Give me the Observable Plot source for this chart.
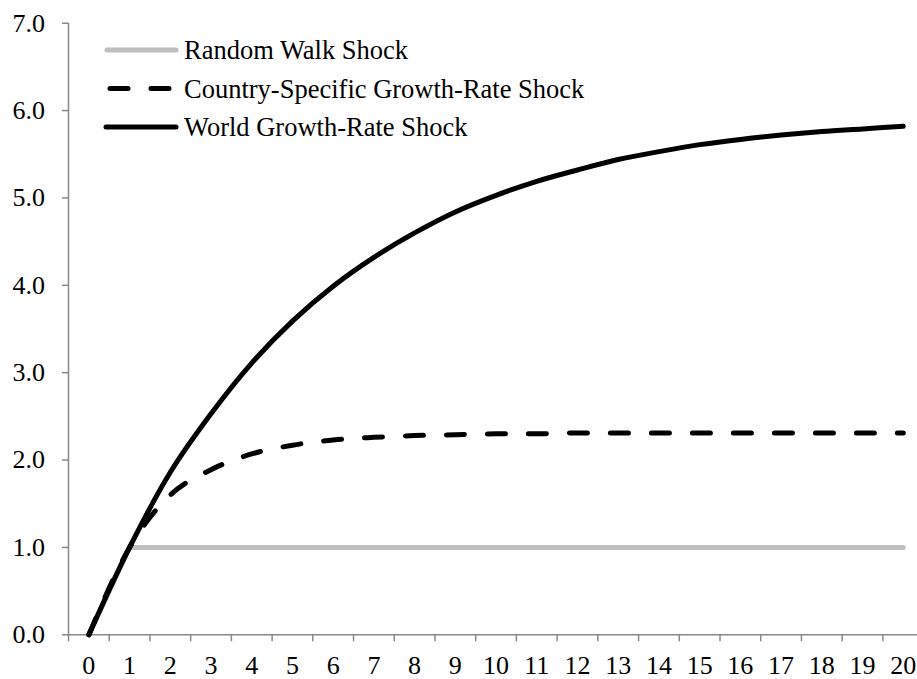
<!DOCTYPE html>
<html>
<head>
<meta charset="utf-8">
<script src="https://cdn.jsdelivr.net/npm/d3@7"></script>
<script src="https://cdn.jsdelivr.net/npm/@observablehq/plot@0.6"></script>
<style>
  html, body { margin: 0; padding: 0; background: #fff; }
  #chart { width: 917px; height: 679px; }
</style>
</head>
<body>
<div id="chart"></div>
<script>
const periods = [0,1,2,3,4,5,6,7,8,9,10,11,12,13,14,15,16,17,18,19,20];
const randomWalk = [0,1,1,1,1,1,1,1,1,1,1,1,1,1,1,1,1,1,1,1,1];
const countrySpecific = [0,1.00,1.60,1.89,2.07,2.17,2.23,2.26,2.28,2.29,2.30,2.30,2.31,2.31,2.31,2.31,2.31,2.31,2.31,2.31,2.31];
const worldGrowth = [0,1.00,1.86,2.53,3.11,3.59,3.99,4.32,4.60,4.84,5.03,5.19,5.32,5.44,5.53,5.61,5.67,5.72,5.76,5.79,5.82];
const seriesNames = ["Random Walk Shock", "Country-Specific Growth-Rate Shock", "World Growth-Rate Shock"];
const yTicks = [0,1,2,3,4,5,6,7];
const xTickLabels = periods;
const xTickMarks = [-0.5,0.5,1.5,2.5,3.5,4.5,5.5,6.5,7.5,8.5,9.5,10.5,11.5,12.5,13.5,14.5,15.5,16.5,17.5,18.5,19.5];

const rw = periods.map((p, i) => ({x: p, y: randomWalk[i]}));
const cs = periods.map((p, i) => ({x: p, y: countrySpecific[i]}));
const wg = periods.map((p, i) => ({x: p, y: worldGrowth[i]}));

const axisGray = "#888888";
const font = "Liberation Serif, Times New Roman, serif";

const chart = Plot.plot({
  width: 917,
  height: 679,
  marginTop: 22.7,
  marginBottom: 44.7,
  marginLeft: 68,
  marginRight: 0,
  style: {fontFamily: font, fontSize: "26px", color: "black", background: "white", overflow: "visible"},
  x: {domain: [-0.5, 20.35], axis: null},
  y: {domain: [0, 7], axis: null},
  marks: [
    Plot.axisY(yTicks, {label: null, tickSize: 6, tickPadding: 17.5, tickFormat: d3.format(".1f"), stroke: axisGray, strokeWidth: 1.5, fill: "black", fontSize: 26}),
    Plot.axisX(xTickMarks, {label: null, tickSize: 7, tickFormat: () => "", stroke: axisGray, strokeWidth: 1.5}),
    Plot.axisX(xTickLabels, {label: null, tickSize: 0, tickPadding: 21, tickFormat: d3.format("d"), fill: "black", fontSize: 26}),
    Plot.ruleX([-0.5], {stroke: axisGray, strokeWidth: 1.5}),
    Plot.ruleY([0], {stroke: axisGray, strokeWidth: 1.5}),
    Plot.line(rw, {x: "x", y: "y", stroke: "#bfbfbf", strokeWidth: 5, curve: "linear", strokeLinecap: "round"}),
    Plot.line(cs, {x: "x", y: "y", stroke: "black", strokeWidth: 5, curve: "monotone-x", strokeLinecap: "round", strokeDasharray: "18,23"}),
    Plot.line(wg, {x: "x", y: "y", stroke: "black", strokeWidth: 5, curve: "catmull-rom", strokeLinecap: "round", strokeLinejoin: "round"})
  ]
});
document.getElementById("chart").appendChild(chart);

// legend (inside the plot area, top-left)
const svg = d3.select(chart);
const legendItems = [
  {name: seriesNames[0], stroke: "#bfbfbf", dash: null, x1: 107, x2: 176, y: 50},
  {name: seriesNames[1], stroke: "black", dash: "18,23", x1: 110, x2: 170, y: 88.5},
  {name: seriesNames[2], stroke: "black", dash: null, x1: 106, x2: 176, y: 127}
];
const lg = svg.append("g").attr("class", "legend").attr("text-anchor", "start");
legendItems.forEach(d => {
  const l = lg.append("line")
    .attr("x1", d.x1).attr("x2", d.x2).attr("y1", d.y).attr("y2", d.y)
    .attr("stroke", d.stroke).attr("stroke-width", 5).attr("stroke-linecap", "round");
  if (d.dash) l.attr("stroke-dasharray", d.dash);
  lg.append("text")
    .attr("x", 184).attr("y", d.y + 9)
    .attr("text-anchor", "start")
    .attr("font-family", font).attr("font-size", 26.5).attr("fill", "black")
    .text(d.name);
});
</script>
</body>
</html>
